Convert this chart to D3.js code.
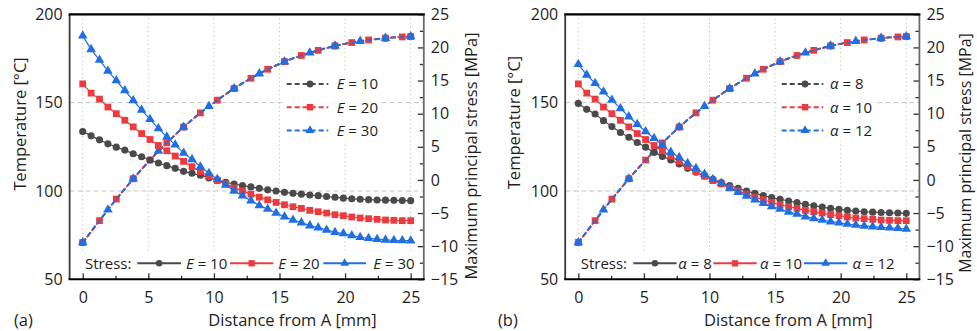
<!DOCTYPE html>
<html><head><meta charset="utf-8">
<script src="https://cdn.jsdelivr.net/npm/d3@7"></script>
<style>
body{margin:0;background:#fff}
svg{display:block}
text{font-family:"Open Sans",sans-serif;fill:#1e1e1e}
</style>
</head><body>
<svg id="c" width="977" height="331"></svg>
<script>
// ---------- data ----------
const xNodes = [0,0.64,1.28,1.92,2.56,3.21,3.85,4.49,5.13,5.77,6.41,7.05,7.69,8.33,8.97,9.62,10.26,10.90,11.54,12.18,12.82,13.46,14.10,14.74,15.38,16.03,16.67,17.31,17.95,18.59,19.23,19.87,20.51,21.15,21.79,22.44,23.08,23.72,24.36,25];
const temperatureC = [70.8,77.0,83.2,89.4,95.4,101.2,106.9,112.3,117.5,122.6,127.2,131.8,136.2,140.3,144.2,147.9,151.4,154.8,158.0,161.0,163.8,166.4,168.9,171.1,173.2,175.0,176.7,178.2,179.6,180.9,182.1,183.1,184.0,184.8,185.5,186.0,186.5,186.9,187.2,187.4];
const stressE10 = [7.3,6.65,6.05,5.45,4.95,4.5,3.95,3.5,3.0,2.55,2.15,1.75,1.3,1.0,0.7,0.3,0.0,-0.35,-0.62,-0.87,-1.05,-1.27,-1.5,-1.67,-1.87,-2.02,-2.15,-2.28,-2.38,-2.5,-2.62,-2.75,-2.85,-2.92,-2.98,-3.03,-3.05,-3.08,-3.12,-3.13];
const stressE20 = [14.5,13.1,12.2,11.0,10.0,9.0,8.0,7.0,6.1,5.2,4.4,3.6,2.8,2.0,1.25,0.55,-0.1,-0.6,-1.2,-1.65,-2.15,-2.6,-3.0,-3.4,-3.75,-4.05,-4.3,-4.6,-4.8,-5.0,-5.25,-5.4,-5.6,-5.75,-5.85,-5.95,-6.05,-6.1,-6.15,-6.15];
const stressE30 = [21.75,19.7,18.1,16.45,15.0,13.5,12.0,10.55,9.15,7.75,6.5,5.3,4.05,3.1,2.0,1.0,0.1,-0.77,-1.65,-2.38,-3.15,-3.85,-4.4,-5.0,-5.55,-6.05,-6.45,-6.9,-7.2,-7.55,-7.9,-8.1,-8.4,-8.65,-8.8,-8.95,-9.05,-9.12,-9.15,-9.17];
const stressA8 = [11.55,10.65,9.95,8.95,8.05,7.15,6.45,5.65,4.95,4.15,3.55,3.0,2.4,1.75,1.15,0.6,0.1,-0.4,-0.85,-1.27,-1.67,-2.02,-2.38,-2.68,-2.92,-3.18,-3.43,-3.68,-3.89,-4.1,-4.3,-4.45,-4.6,-4.7,-4.8,-4.87,-4.92,-4.96,-5.0,-5.04];
const stressA10 = [14.5,13.1,12.2,11.0,10.0,9.0,8.0,7.0,6.1,5.2,4.4,3.6,2.8,2.0,1.25,0.55,-0.1,-0.6,-1.2,-1.65,-2.15,-2.6,-3.0,-3.4,-3.75,-4.05,-4.3,-4.6,-4.8,-5.0,-5.25,-5.4,-5.6,-5.75,-5.85,-5.95,-6.05,-6.1,-6.15,-6.15];
const stressA12 = [17.45,15.85,14.6,13.3,12.05,10.8,9.55,8.4,7.3,6.3,5.25,4.2,3.4,2.5,1.75,0.9,0.1,-0.5,-1.2,-1.85,-2.43,-3.0,-3.5,-4.0,-4.4,-4.85,-5.15,-5.55,-5.8,-6.05,-6.3,-6.45,-6.65,-6.8,-6.95,-7.05,-7.15,-7.22,-7.3,-7.41];
// marker positions shown on the temperature curves (node indices)
const tempMarksGray = [0,6,12,18,24,30,36,39];
const tempMarksRed = [0,2,4,6,8,10,12,14,16,18,20,22,24,26,28,30,32,34,36,38,39];
const tempMarksBlue = [0,3,6,9,12,15,18,21,24,27,30,33,36,39];
const xTicks = [0,5,10,15,20,25];
const xMinorTicks = [2.5,7.5,12.5,17.5,22.5];
const tempTicks = [50,100,150,200];
const tempGrid = [100,150];
const stressTicks = [-15,-10,-5,0,5,10,15,20,25];
const stressMinorTicks = [-12.5,-7.5,-2.5,2.5,7.5,12.5,17.5,22.5];
const symbolE = "E", valuesE = ["10","20","30"];
const symbolA = "α", valuesA = ["8","10","12"];
const panelLabels = ["(a)","(b)"];
const xTitle = "Distance from A [mm]";
const yLeftTitle = "Temperature [°C]";
const yRightTitle = "Maximum principal stress [MPa]";
const stressLabel = "Stress:";

// ---------- drawing ----------
const svg = d3.select("#c");
const colors = ["#4a4a4a","#ec3b3f","#1f6fe3"];
const shapes = [d3.symbolCircle, d3.symbolSquare, d3.symbolTriangle];
const sizes = [40, 46, 40];

function panel(cfg){
  const g = svg.append("g").attr("transform",`translate(${cfg.dx},0)`);
  const x = d3.scaleLinear().domain([-1,26]).range([69.6,423.8]);
  const yT = d3.scaleLinear().domain([50,200]).range([279.3,14.3]);
  const yS = d3.scaleLinear().domain([-15,25]).range([279.3,14.3]);

  // grid
  g.selectAll(".vg").data(xTicks).join("line")
    .attr("x1",d=>x(d)).attr("x2",d=>x(d)).attr("y1",yT(200)).attr("y2",yT(50))
    .attr("stroke","#bdbdbd").attr("stroke-width",1).attr("stroke-dasharray","1.2,3");
  g.selectAll(".hg").data(tempGrid).join("line")
    .attr("x1",x(-1)).attr("x2",x(26)).attr("y1",d=>yT(d)).attr("y2",d=>yT(d))
    .attr("stroke","#c6c6c6").attr("stroke-width",1).attr("stroke-dasharray","5,3");

  // legend boxes (white backgrounds)
  g.append("rect").attr("x",cfg.topLeg.boxX).attr("y",71).attr("width",cfg.topLeg.boxW).attr("height",70).attr("fill","#fff").attr("opacity",0.9);
  g.append("rect").attr("x",x(-0.5)).attr("y",251).attr("height",26).attr("width",x(25.7)-x(-0.5)).attr("fill","#fff");

  // temperature (dashed) curves
  const lineT = d3.line().x((d,i)=>x(xNodes[i])).y(d=>yT(d));
  const dashOff = [0, 1.5, 0];
  [0,1,2].forEach(k=>{
    g.append("path").datum(temperatureC).attr("d",lineT)
      .attr("fill","none").attr("stroke",colors[k]).attr("stroke-width",1.8)
      .attr("stroke-dasharray","5,3").attr("stroke-dashoffset",dashOff[k]);
    g.selectAll(null).data(cfg.tempMarks[k]).join("path")
      .attr("d",d3.symbol().type(shapes[k]).size(sizes[k]))
      .attr("transform",i=>`translate(${x(xNodes[i])},${yT(temperatureC[i])})`)
      .attr("fill",colors[k]);
  });

  // stress (solid) curves
  const lineS = d3.line().x((d,i)=>x(xNodes[i])).y(d=>yS(d));
  cfg.stress.forEach((arr,k)=>{
    g.append("path").datum(arr).attr("d",lineS)
      .attr("fill","none").attr("stroke",colors[k]).attr("stroke-width",1.2);
    g.selectAll(null).data(arr).join("path")
      .attr("d",d3.symbol().type(shapes[k]).size(sizes[k]))
      .attr("transform",(d,i)=>`translate(${x(xNodes[i])},${yS(d)})`)
      .attr("fill",colors[k]);
  });

  // axes
  g.append("g").attr("transform",`translate(0,${yT(50)})`)
    .call(d3.axisBottom(x).tickValues(xTicks).tickSize(-6).tickPadding(12).tickFormat(d3.format("d")));
  g.append("g").attr("transform",`translate(0,${yT(50)})`)
    .call(d3.axisBottom(x).tickValues(xMinorTicks).tickSize(-3.5).tickFormat(""));
  g.append("g").attr("transform",`translate(${x(-1)},0)`)
    .call(d3.axisLeft(yT).tickValues(tempTicks).tickSize(0).tickPadding(7));
  g.append("g").attr("transform",`translate(${x(26)},0)`)
    .call(d3.axisRight(yS).tickValues(stressTicks).tickSize(-6).tickPadding(7));
  g.append("g").attr("transform",`translate(${x(26)},0)`)
    .call(d3.axisRight(yS).tickValues(stressMinorTicks).tickSize(-4).tickFormat(""));
  g.selectAll(".domain").remove();
  g.selectAll(".tick line").attr("stroke","#333").attr("stroke-width",1.3);
  g.selectAll(".tick text").attr("font-size",16).attr("font-family","Open Sans").attr("fill","#1e1e1e");

  // frame
  g.append("line").attr("x1",x(-1)).attr("x2",x(-1)).attr("y1",yT(200)).attr("y2",yT(50)).attr("stroke","#3a3a3a").attr("stroke-width",1.8);
  g.append("line").attr("x1",x(26)).attr("x2",x(26)).attr("y1",yT(200)).attr("y2",yT(50)).attr("stroke","#6a6a6a").attr("stroke-width",1.8);
  g.append("line").attr("x1",x(-1)-1).attr("x2",x(26)+1).attr("y1",yT(200)).attr("y2",yT(200)).attr("stroke","#000").attr("stroke-width",2.2);
  g.append("line").attr("x1",x(-1)-1).attr("x2",x(26)+1).attr("y1",yT(50)).attr("y2",yT(50)).attr("stroke","#000").attr("stroke-width",2);

  // titles
  g.append("text").attr("x",cfg.xTitleX).attr("y",326).attr("text-anchor","middle").attr("font-size",16.5).text(xTitle);
  g.append("text").attr("transform",`translate(${cfg.yLeftX},${cfg.yLeftY}) rotate(-90)`).attr("text-anchor","middle").attr("font-size",16.5).text(yLeftTitle);
  g.append("text").attr("transform",`translate(${cfg.yRightX},${cfg.yRightY}) rotate(-90)`).attr("text-anchor","middle").attr("font-size",cfg.yRightSize).text(yRightTitle);
  g.append("text").attr("x",cfg.labX).attr("y",326).attr("font-size",16.5).text(cfg.label);

  // top legend (temperature, dashed)
  cfg.values.forEach((v,k)=>{
    const yy = 84 + k*23.2;
    g.append("line").attr("x1",cfg.topLeg.x1).attr("x2",cfg.topLeg.x2).attr("y1",yy).attr("y2",yy)
      .attr("stroke",colors[k]).attr("stroke-width",2).attr("stroke-dasharray","5,3");
    g.append("path").attr("d",d3.symbol().type(shapes[k]).size(sizes[k]-4)())
      .attr("transform",`translate(${cfg.topLeg.m},${yy})`).attr("fill",colors[k]);
    const t = g.append("text").attr("x",cfg.topLeg.tx).attr("y",yy).attr("dy","0.36em").attr("font-size",15);
    t.append("tspan").attr("font-style","italic").text(cfg.sym);
    t.append("tspan").text(" = "+v);
  });

  // bottom legend (stress, solid)
  const by = 263.3;
  g.append("text").attr("x",cfg.botLeg.sx).attr("y",by).attr("dy","0.36em").attr("font-size",15).text(stressLabel);
  cfg.values.forEach((v,k)=>{
    const it = cfg.botLeg.items[k];
    g.append("line").attr("x1",it[0]).attr("x2",it[1]).attr("y1",by).attr("y2",by)
      .attr("stroke",colors[k]).attr("stroke-width",2);
    g.append("path").attr("d",d3.symbol().type(shapes[k]).size(sizes[k]-6)())
      .attr("transform",`translate(${(it[0]+it[1])/2},${by})`).attr("fill",colors[k]);
    const t = g.append("text").attr("x",it[2]).attr("y",by).attr("dy","0.36em").attr("font-size",15);
    t.append("tspan").attr("font-style","italic").text(cfg.sym);
    t.append("tspan").text(" = "+v);
  });
}

panel({
  dx:0, label:panelLabels[0], labX:14,
  sym:symbolE, values:valuesE,
  stress:[stressE10,stressE20,stressE30],
  tempMarks:[tempMarksGray,tempMarksRed,tempMarksBlue],
  xTitleX:292.5, yLeftX:25.5, yLeftY:124, yRightX:477, yRightY:156, yRightSize:16.5,
  topLeg:{x1:286.7,x2:328.3,m:310,tx:336.7,boxX:283,boxW:97},
  botLeg:{sx:85,items:[[137.3,181,186],[230,273.3,278.3],[323.3,366,373.3]]}
});
panel({
  dx:495.6, label:panelLabels[1], labX:2.4,
  sym:symbolA, values:valuesA,
  stress:[stressA8,stressA10,stressA12],
  tempMarks:[tempMarksGray,tempMarksRed,tempMarksBlue],
  xTitleX:292.7, yLeftX:24.4, yLeftY:122.5, yRightX:475.6, yRightY:153, yRightSize:16,
  topLeg:{x1:286.1,x2:327.7,m:309.4,tx:334.4,boxX:281,boxW:97},
  botLeg:{sx:85.1,items:[[137.7,181,182.7],[217.7,261.1,264.4],[308.4,351.7,357]]}
});
</script>
</body></html>
